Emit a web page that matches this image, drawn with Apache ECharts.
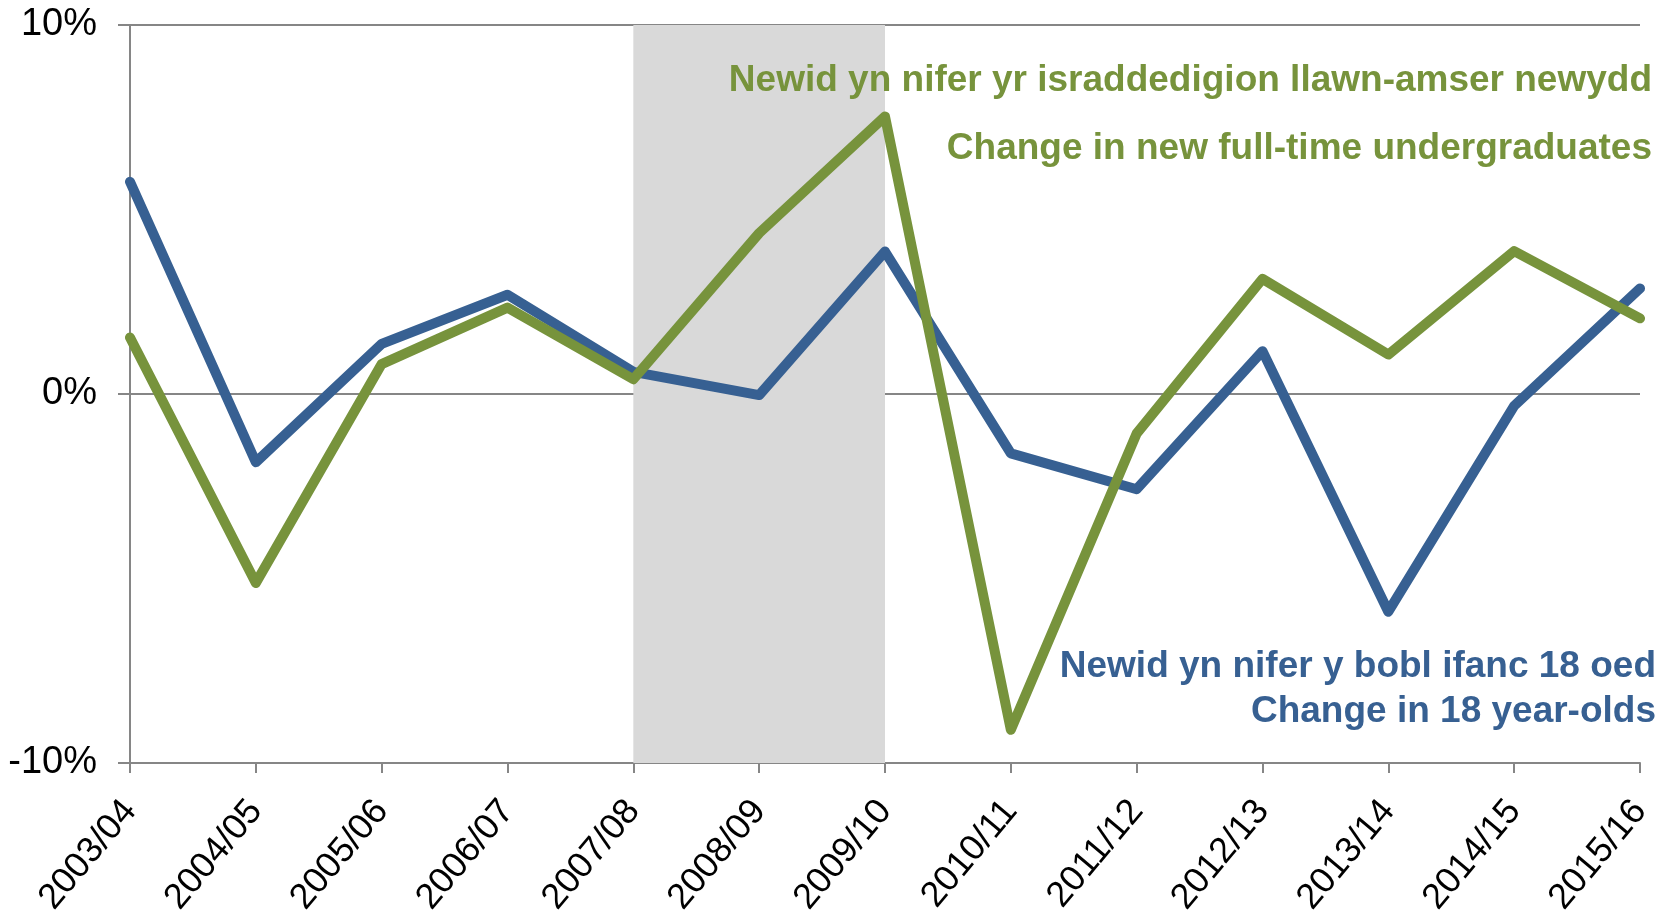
<!DOCTYPE html>
<html>
<head>
    <meta charset="UTF-8">
    <title>Newid yn nifer / Change in numbers</title>
    <script src="https://cdn.jsdelivr.net/npm/echarts@6/dist/echarts.min.js"></script>
    <style>
        html, body { margin: 0; padding: 0; background: #fff; }
        #chart { width: 1673px; height: 921px; }
    </style>
</head>
<body>
<div id="chart"></div>
<script type="text/javascript">
    // blynyddoedd academaidd
    var years = ['2003/04', '2004/05', '2005/06', '2006/07', '2007/08', '2008/09', '2009/10',
        '2010/11', '2011/12', '2012/13', '2013/14', '2014/15', '2015/16'];
    // newid yn nifer y bobl ifanc 18 oed (%)
    var ageGroup18 = [5.75, -1.85, 1.36, 2.69, 0.6, -0.03, 3.86, -1.61, -2.58, 1.16, -5.9, -0.32, 2.86];
    // newid yn nifer yr israddedigion llawn-amser newydd (%)
    var newUndergrads = [1.53, -5.12, 0.81, 2.34, 0.4, 4.36, 7.52, -9.1, -1.07, 3.12, 1.07, 3.87, 2.05];
    // cyfnod wedi'i liwio
    var shadedFrom = '2007/08';
    var shadedTo = '2009/10';
    var yTicks = [-10, 0, 10];

    var blue = '#376092';
    var green = '#77933C';
    var grey = '#868686';
    var font = '"Liberation Sans", Arial, sans-serif';

    var myChart = echarts.init(document.getElementById('chart'));

    var option = {
        animation: false,
        grid: {left: 130, right: 33, top: 25, bottom: 158, outerBoundsMode: 'none'},
        xAxis: {
            type: 'category',
            data: years,
            boundaryGap: false,
            axisLine: {onZero: false, lineStyle: {color: grey, width: 2}},
            axisTick: {show: true, alignWithLabel: true, length: 10, lineStyle: {color: grey, width: 2}},
            axisLabel: {
                interval: 0,
                rotate: 50,
                margin: 42,
                color: '#000',
                fontSize: 36,
                fontFamily: font
            },
            splitLine: {show: false}
        },
        yAxis: {
            type: 'value',
            min: yTicks[0],
            max: yTicks[yTicks.length - 1],
            interval: 10,
            axisLine: {show: true, lineStyle: {color: grey, width: 2}},
            axisTick: {show: true, length: 12, lineStyle: {color: grey, width: 2}},
            axisLabel: {
                formatter: '{value}%',
                color: '#000',
                fontSize: 38,
                fontFamily: font,
                margin: 33
            },
            splitLine: {show: true, lineStyle: {color: grey, width: 2}}
        },
        graphic: [
            {
                type: 'text', right: 21, top: 62, z: 10,
                style: {text: 'Newid yn nifer yr israddedigion llawn-amser newydd',
                    fill: green, font: 'bold 37px ' + font}
            },
            {
                type: 'text', right: 21, top: 130, z: 10,
                style: {text: 'Change in new full-time undergraduates',
                    fill: green, font: 'bold 37px ' + font}
            },
            {
                type: 'text', right: 17, top: 648, z: 10,
                style: {text: 'Newid yn nifer y bobl ifanc 18 oed',
                    fill: blue, font: 'bold 37px ' + font}
            },
            {
                type: 'text', right: 17, top: 693, z: 10,
                style: {text: 'Change in 18 year-olds',
                    fill: blue, font: 'bold 37px ' + font}
            }
        ],
        series: [
            {
                name: 'shade',
                type: 'line',
                data: [],
                z: 0,
                silent: true,
                markArea: {
                    silent: true,
                    itemStyle: {color: '#D9D9D9'},
                    data: [[{xAxis: shadedFrom}, {xAxis: shadedTo}]]
                }
            },
            {
                name: 'Change in 18 year-olds',
                type: 'line',
                data: ageGroup18,
                symbol: 'none',
                z: 3,
                lineStyle: {color: blue, width: 10, join: 'round', cap: 'round'}
            },
            {
                name: 'Change in new full-time undergraduates',
                type: 'line',
                data: newUndergrads,
                symbol: 'none',
                z: 4,
                lineStyle: {color: green, width: 10, join: 'round', cap: 'round'}
            }
        ]
    };
    myChart.setOption(option);
</script>
</body>
</html>
